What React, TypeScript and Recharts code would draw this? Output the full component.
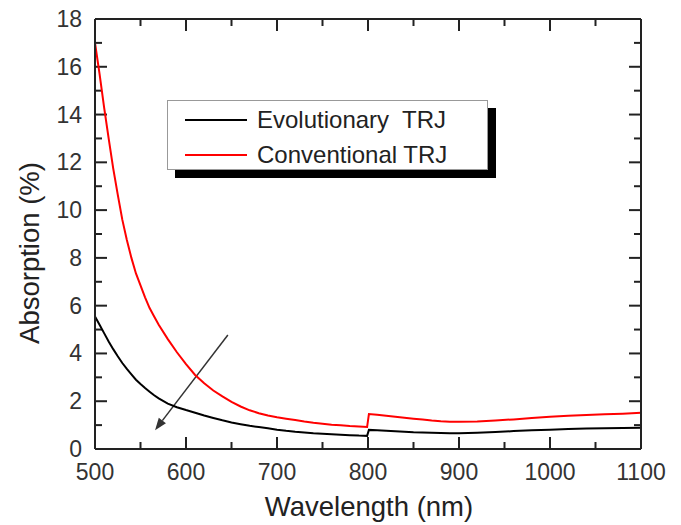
import { LineChart, Line, XAxis, YAxis, Legend, ReferenceLine } from 'recharts';

const wavelengths = [
  500, 505, 510, 515, 520, 525, 530, 535, 540, 545, 550, 555, 560, 565, 570, 580, 590, 600, 610, 620,
  630, 640, 650, 660, 670, 680, 690, 700, 710, 720, 730, 740, 750, 760, 770, 780, 790, 799, 801, 810,
  820, 830, 840, 850, 860, 870, 880, 890, 900, 920, 940, 960, 980, 1000, 1020, 1040, 1060, 1080, 1100,
];

const conventional = [
  17.0, 15.7, 14.3, 13.0, 11.75, 10.65, 9.6, 8.75, 8.0, 7.35, 6.85, 6.35, 5.9, 5.55, 5.2, 4.6, 4.05, 3.55, 3.1, 2.75,
  2.45, 2.2, 1.97, 1.78, 1.62, 1.5, 1.4, 1.33, 1.27, 1.21, 1.15, 1.1, 1.06, 1.02, 0.99, 0.96, 0.94, 0.92, 1.46, 1.43,
  1.39, 1.35, 1.31, 1.27, 1.23, 1.19, 1.16, 1.14, 1.14, 1.15, 1.19, 1.24, 1.3, 1.35, 1.39, 1.42, 1.45, 1.48, 1.52,
];

const evolutionary = [
  5.55, 5.2, 4.85, 4.5, 4.18, 3.88, 3.6, 3.35, 3.12, 2.9, 2.72, 2.55, 2.4, 2.25, 2.12, 1.9, 1.75, 1.63, 1.52, 1.4,
  1.3, 1.2, 1.11, 1.04, 0.97, 0.92, 0.87, 0.81, 0.76, 0.72, 0.69, 0.66, 0.64, 0.62, 0.6, 0.58, 0.56, 0.55, 0.8, 0.78,
  0.76, 0.74, 0.72, 0.7, 0.69, 0.68, 0.67, 0.66, 0.66, 0.68, 0.71, 0.75, 0.78, 0.81, 0.84, 0.86, 0.87, 0.88, 0.89,
];

const xDomain = [500, 1100];
const yDomain = [0, 18];
const xMajor = [500, 600, 700, 800, 900, 1000, 1100];
const xMinor = [550, 650, 750, 850, 950, 1050];
const yMajor = [0, 2, 4, 6, 8, 10, 12, 14, 16, 18];
const yMinor = [1, 3, 5, 7, 9, 11, 13, 15, 17];

// arrow: start and end in data units
const arrowSegment = [
  { x: 646, y: 4.77 },
  { x: 566, y: 0.79 },
];

// corner-to-corner segment used to place the frame tick marks
const frameSegment = [
  { x: xDomain[0], y: yDomain[0] },
  { x: xDomain[1], y: yDomain[1] },
];

const data = wavelengths.map((w, i) => ({ w, evo: evolutionary[i], conv: conventional[i] }));

const AXIS = '#222';
const TEXT = '#333';
const FONT = '"Liberation Sans", Arial, sans-serif';
const axisStroke = { stroke: AXIS, strokeWidth: 2 };

const BottomLabel = (props: any) => {
  const { x, y, payload } = props;
  return (
    <text x={x} y={y + 31} textAnchor="middle" fontSize={23} fill={TEXT} fontFamily={FONT}>
      {payload.value}
    </text>
  );
};

const LeftLabel = (props: any) => {
  const { x, y, payload } = props;
  return (
    <text x={x - 13} y={y + 8} textAnchor="end" fontSize={23} fill={TEXT} fontFamily={FONT}>
      {payload.value}
    </text>
  );
};

// inward tick marks at left and right ends of a horizontal reference line
const hTicks = (len: number) => (p: any) => {
  const left = Math.min(p.x1, p.x2);
  const right = Math.max(p.x1, p.x2);
  return (
    <g>
      <line x1={left} x2={left + len} y1={p.y1} y2={p.y1} stroke={AXIS} strokeWidth={2} />
      <line x1={right} x2={right - len} y1={p.y1} y2={p.y1} stroke={AXIS} strokeWidth={2} />
    </g>
  );
};

// all inward x tick marks on the bottom and top frame edges, from the corner segment
const FrameTicks = (p: any) => {
  const { x1, y1, x2, y2 } = p; // (x1,y1) bottom-left, (x2,y2) top-right
  const pos = (v: number) => x1 + ((v - xDomain[0]) / (xDomain[1] - xDomain[0])) * (x2 - x1);
  const mark = (v: number, len: number) => (
    <g key={v}>
      <rect x={pos(v) - 1} y={y1 - len} width={2} height={len} fill={AXIS} />
      <rect x={pos(v) - 1} y={y2} width={2} height={len} fill={AXIS} />
    </g>
  );
  return (
    <g>
      {xMajor.map((v) => mark(v, 12))}
      {xMinor.map((v) => mark(v, 7))}
    </g>
  );
};

const Arrow = (props: any) => {
  const { x1, y1, x2, y2 } = props;
  const ang = Math.atan2(y2 - y1, x2 - x1);
  const len = 12;
  const wid = 4.5;
  const bx = x2 - len * Math.cos(ang);
  const by = y2 - len * Math.sin(ang);
  const px = -Math.sin(ang) * wid;
  const py = Math.cos(ang) * wid;
  return (
    <g>
      <line x1={x1} y1={y1} x2={bx} y2={by} stroke="#333" strokeWidth={1.5} />
      <polygon points={`${x2},${y2} ${bx + px},${by + py} ${bx - px},${by - py}`} fill="#333" />
    </g>
  );
};

const LegendBox = () => (
  <div
    style={{
      width: 319,
      height: 68,
      border: '1px solid #999',
      background: '#fff',
      boxShadow: '8px 8px 0 #000',
      position: 'relative',
      fontFamily: FONT,
      fontSize: 24,
      color: '#222',
    }}
  >
    {[
      { label: 'Evolutionary\u00a0 TRJ', color: '#000', top: 19 },
      { label: 'Conventional TRJ', color: '#ff0000', top: 54 },
    ].map((r) => (
      <div key={r.label}>
        <div style={{ position: 'absolute', left: 17, top: r.top - 1, width: 62, height: 2, background: r.color }} />
        <div style={{ position: 'absolute', left: 89, top: r.top - 14, lineHeight: '28px', whiteSpace: 'nowrap' }}>
          {r.label}
        </div>
      </div>
    ))}
  </div>
);

export default function App() {
  return (
    <div style={{ position: 'absolute', left: 0, top: 0, width: 681, height: 525, background: '#fff', fontFamily: FONT }}>
      <LineChart width={681} height={525} data={data} margin={{ top: 18, right: 39, bottom: 75, left: 94 }}>
        <XAxis
          xAxisId="b"
          dataKey="w"
          type="number"
          domain={xDomain}
          ticks={xMajor}
          interval={0}
          height={1}
          tickSize={0}
          tickMargin={0}
          tickLine={false}
          tick={<BottomLabel />}
          axisLine={axisStroke}
          label={{
            content: () => (
              <text x={369} y={516} textAnchor="middle" fontSize={27.5} fill="#222" fontFamily={FONT}>
                Wavelength (nm)
              </text>
            ),
          }}
        />
        <XAxis
          xAxisId="t"
          orientation="top"
          type="number"
          dataKey="w"
          domain={xDomain}
          height={1}
          tickLine={false}
          tick={false}
          axisLine={axisStroke}
        />
        <YAxis
          yAxisId="l"
          type="number"
          domain={yDomain}
          ticks={yMajor}
          interval={0}
          width={1}
          tickSize={0}
          tickMargin={0}
          tickLine={false}
          tick={<LeftLabel />}
          axisLine={axisStroke}
          label={{
            content: () => (
              <text
                x={39}
                y={253}
                transform="rotate(-90 39 253)"
                textAnchor="middle"
                fontSize={27.5}
                fill="#222"
                fontFamily={FONT}
              >
                Absorption (%)
              </text>
            ),
          }}
        />
        <YAxis
          yAxisId="r"
          orientation="right"
          type="number"
          domain={yDomain}
          width={1}
          tickLine={false}
          tick={false}
          axisLine={axisStroke}
        />
        <Legend
          layout="vertical"
          align="center"
          verticalAlign="middle"
          content={<LegendBox />}
          wrapperStyle={{ position: 'absolute', left: 167, top: 100, width: 321, height: 70 }}
        />
        {yMajor.map((v) => (
          <ReferenceLine key={`yM${v}`} xAxisId="b" yAxisId="l" y={v} ifOverflow="visible" shape={hTicks(12)} />
        ))}
        {yMinor.map((v) => (
          <ReferenceLine key={`ym${v}`} xAxisId="b" yAxisId="l" y={v} ifOverflow="visible" shape={hTicks(7)} />
        ))}
        <ReferenceLine
          xAxisId="b"
          yAxisId="l"
          segment={arrowSegment}
          shape={(p: any) => <Arrow {...p} />}
        />
        <ReferenceLine
          xAxisId="b"
          yAxisId="l"
          segment={frameSegment}
          ifOverflow="visible"
          shape={(p: any) => <FrameTicks {...p} />}
        />
        <Line
          xAxisId="b"
          yAxisId="l"
          type="linear"
          dataKey="evo"
          stroke="#000"
          strokeWidth={2}
          dot={false}
          isAnimationActive={false}
        />
        <Line
          xAxisId="b"
          yAxisId="l"
          type="linear"
          dataKey="conv"
          stroke="#ff0000"
          strokeWidth={2}
          dot={false}
          isAnimationActive={false}
        />
      </LineChart>
    </div>
  );
}
